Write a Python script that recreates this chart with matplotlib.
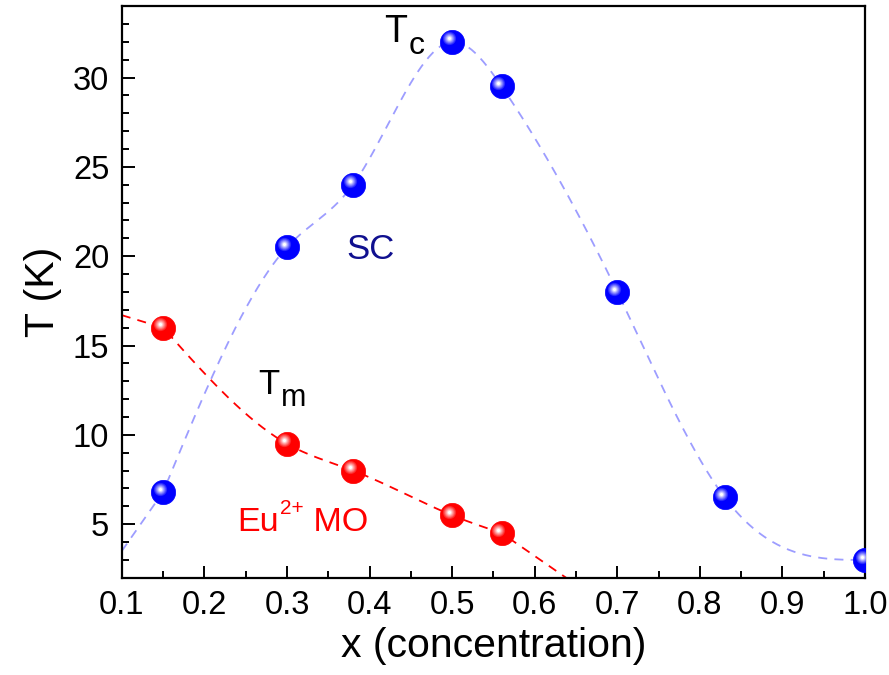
import numpy as np
import matplotlib
matplotlib.use("Agg")
import matplotlib.pyplot as plt
from matplotlib.transforms import offset_copy
from matplotlib.ticker import MultipleLocator

plt.rcParams['font.family'] = ['Liberation Sans', 'DejaVu Sans']

# Tc (superconducting) points
x_sc = [0.15, 0.30, 0.38, 0.50, 0.56, 0.70, 0.83, 1.00]
t_sc = [6.8, 20.5, 24.0, 32.0, 29.5, 18.0, 6.5, 3.0]

# Tm (Eu2+ magnetic order) points
x_mo = [0.15, 0.30, 0.38, 0.50, 0.56]
t_mo = [16.0, 9.5, 8.0, 5.5, 4.5]


def spline(xs, ys, xnew, right_slope=None, ext_left=None, ext_right=None):
    # cubic spline through the points; straight guide-line beyond the end points
    xs = np.asarray(xs, float)
    ys = np.asarray(ys, float)
    n = len(xs)
    h = np.diff(xs)
    A = np.zeros((n, n))
    b = np.zeros(n)
    A[0, 0] = 1.0
    for i in range(1, n - 1):
        A[i, i - 1] = h[i - 1]
        A[i, i] = 2 * (h[i - 1] + h[i])
        A[i, i + 1] = h[i]
        b[i] = 6 * ((ys[i + 1] - ys[i]) / h[i] - (ys[i] - ys[i - 1]) / h[i - 1])
    if right_slope is None:
        A[-1, -1] = 1.0
    else:
        A[-1, -2] = h[-1]
        A[-1, -1] = 2 * h[-1]
        b[-1] = 6 * (right_slope - (ys[-1] - ys[-2]) / h[-1])
    M = np.linalg.solve(A, b)
    xc = np.clip(xnew, xs[0], xs[-1])
    idx = np.clip(np.searchsorted(xs, xc) - 1, 0, n - 2)
    x0, x1 = xs[idx], xs[idx + 1]
    hh = x1 - x0
    out = (M[idx] * (x1 - xc) ** 3 / (6 * hh) + M[idx + 1] * (xc - x0) ** 3 / (6 * hh)
           + (ys[idx] / hh - M[idx] * hh / 6) * (x1 - xc)
           + (ys[idx + 1] / hh - M[idx + 1] * hh / 6) * (xc - x0))
    if ext_left is not None:
        m = xnew < xs[0]
        out[m] = ys[0] + ext_left * (xnew[m] - xs[0])
    if ext_right is not None:
        m = xnew > xs[-1]
        out[m] = ys[-1] + ext_right * (xnew[m] - xs[-1])
    return out


def balls(ax, xs, ys, color, light):
    # shaded sphere look: solid disc + offset highlight layers
    ax.plot(xs, ys, 'o', ms=17.5, mfc=color, mec=color, mew=0.5, ls='none', zorder=5)
    tr = offset_copy(ax.transData, fig=ax.figure, x=-2.4, y=2.4, units='points')
    sizes = [9.5, 8, 6.5, 5, 3.6, 2.2]
    for k, s in enumerate(sizes):
        f = (k + 1) / len(sizes)
        c = np.array(matplotlib.colors.to_rgb(color)) * (1 - f) + np.array(matplotlib.colors.to_rgb(light)) * f
        ax.plot(xs, ys, 'o', ms=s, mfc=c, mec='none', ls='none', transform=tr, zorder=6 + k)


fig = plt.figure(figsize=(8.89, 6.75), dpi=100)
ax = fig.add_axes([0.137, 0.144, 0.836, 0.847])

xf = np.linspace(0.1, 1.0, 400)
ax.plot(xf, spline(x_sc, t_sc, xf, right_slope=0.0, ext_left=66),
        ls=(0, (5, 4)), color='#9d9dff', lw=1.3, zorder=2)
xr = np.linspace(0.1, 0.7, 300)
ax.plot(xr, spline(x_mo, t_mo, xr, ext_left=-14, ext_right=-32),
        ls=(0, (5, 4)), color='red', lw=1.3, zorder=2)

balls(ax, x_sc, t_sc, '#0000ff', '#ffffff')
balls(ax, x_mo, t_mo, '#ff0000', '#ffffff')

ax.set_xlim(0.1, 1.0)
ax.set_ylim(2, 34)
ax.xaxis.set_minor_locator(MultipleLocator(0.05))
ax.yaxis.set_minor_locator(MultipleLocator(1))
ax.set_yticks([5, 10, 15, 20, 25, 30])
ax.set_xticks(np.arange(0.1, 1.01, 0.1))
ax.set_xticklabels(['0.1', '0.2', '0.3', '0.4', '0.5', '0.6', '0.7', '0.8', '0.9', '1.0'])
ax.tick_params(which='both', direction='in', top=False, right=False, width=1.4, labelsize=23.5)
ax.tick_params(which='major', length=9, pad=9)
ax.tick_params(which='minor', length=5)
for sp in ax.spines.values():
    sp.set_linewidth(1.6)

ax.set_xlabel('x (concentration)', fontsize=29.5, labelpad=4)
ax.set_ylabel('T (K)', fontsize=29.5, labelpad=8)

# annotations
tc = ax.text(0.418, 32.0, 'T', fontsize=27, va='baseline', ha='left')
ax.annotate('c', xy=(1, 0), xycoords=tc, xytext=(1, -8), textcoords='offset points',
            fontsize=23, va='bottom', ha='left')
tm = ax.text(0.265, 12.3, 'T', fontsize=25, va='baseline', ha='left')
ax.annotate('m', xy=(1, 0), xycoords=tm, xytext=(1, -9), textcoords='offset points',
            fontsize=22, va='bottom', ha='left')
ax.text(0.372, 20.4, 'SC', fontsize=25, color='#10108f', va='center', ha='left')
eu = ax.text(0.240, 4.6, 'Eu', fontsize=24.5, color='red', va='baseline', ha='left')
sup = ax.annotate('2+', xy=(1, 1), xycoords=eu, xytext=(1, 6), textcoords='offset points',
                  fontsize=15, color='red', va='top', ha='left')
ax.annotate(' MO', xy=(1, 0), xycoords=(sup, eu), xytext=(0, 0), textcoords='offset points',
            fontsize=24.5, color='red', va='bottom', ha='left')

fig.savefig('out.png', dpi=100)
